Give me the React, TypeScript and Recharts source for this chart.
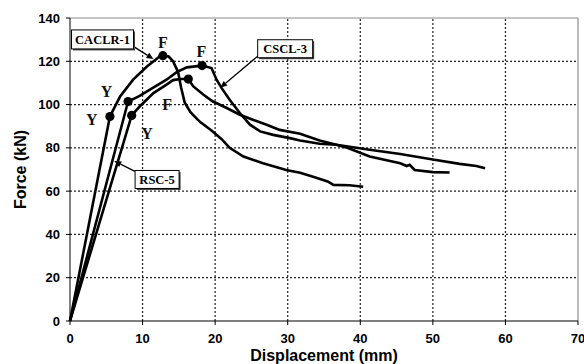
import React from "react";
import {
  ComposedChart,
  Line,
  Scatter,
  XAxis,
  YAxis,
  ReferenceLine,
  ReferenceDot,
} from "recharts";

// Force–displacement curves (Displacement mm, Force kN)
const caclr1 = [
  [0, 0], [5.5, 94.5], [6.9, 103.7], [8.7, 111.5], [10.6, 117.6], [12.4, 122.3],
  [12.8, 122.6], [13.6, 122.2], [14.2, 120], [14.9, 115], [15.3, 108], [15.8, 101],
  [16.6, 96.5], [17.9, 92], [19.5, 88], [20.9, 84], [22, 80], [23.9, 76],
  [26.6, 72.9], [29.8, 69.8], [31.7, 68.5], [33.5, 66.7], [35.5, 64.5], [36.3, 62.9],
  [38.5, 62.7], [40.4, 62],
].map(([x, y]) => ({ x, y }));

const cscl3 = [
  [0, 0], [8.0, 101.4], [9.6, 104], [11.3, 107.5], [13.3, 111.5], [14.7, 115],
  [16.1, 117.2], [18.2, 118], [19.5, 116.9], [20.2, 111.5], [20.9, 107.6], [22, 102.2],
  [23.4, 96.1], [24.8, 90.7], [26.2, 87.6], [28, 86], [30.3, 84.5], [31.7, 83.4],
  [34.4, 81.9], [36.7, 81.4], [41.3, 79.1], [45.5, 77.2], [50, 74.6], [53.7, 72.6],
  [56, 71.6], [57.2, 70.6],
].map(([x, y]) => ({ x, y }));

const rsc5 = [
  [0, 0], [8.5, 95], [9.6, 99.1], [11.5, 105.3], [13.3, 109.2], [14.2, 111.3],
  [15.2, 111.8], [16.3, 111.8], [17, 108.4], [18.4, 104.5], [19.7, 101.4], [21.6, 98.4],
  [23.4, 95.3], [25.2, 93], [27.1, 90.7], [28.9, 88.3], [31.7, 86.5], [34.4, 83.4],
  [36.7, 81.4], [38.3, 79.9], [41.3, 76], [45.5, 72.9], [46.4, 71.6], [46.8, 72.2],
  [47.5, 69.8], [50, 68.8], [52.3, 68.6],
].map(([x, y]) => ({ x, y }));

// Yield (Y) and failure (F) points
const keyPoints = [
  { x: 5.5, y: 94.5 }, { x: 12.8, y: 122.6 },
  { x: 8.0, y: 101.4 }, { x: 18.2, y: 118 },
  { x: 8.5, y: 95 }, { x: 16.3, y: 111.8 },
];

const pointLetters = [
  { x: 12.8, y: 128.6, t: "F" },
  { x: 18.1, y: 124.4, t: "F" },
  { x: 5.05, y: 106.1, t: "Y" },
  { x: 3.0, y: 93.2, t: "Y" },
  { x: 13.4, y: 99.9, t: "F" },
  { x: 10.6, y: 86.8, t: "Y" },
];

const xTicks = [0, 10, 20, 30, 40, 50, 60, 70];
const yTicks = [0, 20, 40, 60, 80, 100, 120, 140];
const X_MAX = 70;
const Y_MAX = 140;

// Grid lines built from the tick lists
const vGrid = xTicks.slice(1, -1).map((t) => [{ x: t, y: 0 }, { x: t, y: Y_MAX }]);
const hGrid = yTicks.slice(1, -1).map((t) => [{ x: 0, y: t }, { x: X_MAX, y: t }]);
const frame = [
  [{ x: 0, y: Y_MAX }, { x: X_MAX, y: Y_MAX }],
  [{ x: X_MAX, y: 0 }, { x: X_MAX, y: Y_MAX }],
];

// Specimen label boxes and arrows (annotation layout)
const specimenLabels = [
  { name: "CACLR-1", x: 4.48, y: 130.1, w: 62, h: 19 },
  { name: "CSCL-3", x: 29.65, y: 125.8, w: 55, h: 18 },
  { name: "RSC-5", x: 12.0, y: 65.4, w: 44, h: 18 },
];
const arrows = [
  { from: { x: 8.72, y: 126.9 }, to: { x: 11.5, y: 121.0 } },
  { from: { x: 25.94, y: 122.6 }, to: { x: 20.7, y: 107.8 } },
  { from: { x: 8.95, y: 69.1 }, to: { x: 6.1, y: 73.9 } },
];

const tickStyle = {
  fontFamily: "'Liberation Sans', Arial, sans-serif",
  fontWeight: "bold",
  fontSize: 13,
  fill: "#000",
};

const YTitle = (props: any) => {
  const vb = props.viewBox || { x: 0, y: 18, width: 70, height: 303 };
  const cx = vb.x + 25.5;
  const cy = vb.y + vb.height / 2;
  return (
    <text
      x={cx}
      y={cy}
      transform={`rotate(-90 ${cx} ${cy})`}
      textAnchor="middle"
      fontFamily="'Liberation Sans', Arial, sans-serif"
      fontWeight="bold"
      fontSize={16}
      fill="#000"
    >
      Force (kN)
    </text>
  );
};

const XTitle = (props: any) => {
  const vb = props.viewBox || { x: 70, y: 321, width: 508, height: 43 };
  return (
    <text
      x={vb.x + vb.width / 2}
      y={vb.y + 40}
      textAnchor="middle"
      fontFamily="'Liberation Sans', Arial, sans-serif"
      fontWeight="bold"
      fontSize={16}
      fill="#000"
    >
      Displacement (mm)
    </text>
  );
};

const Arrow = (p: any) => {
  const { x1, y1, x2, y2 } = p;
  const ang = Math.atan2(y2 - y1, x2 - x1);
  const L = 7;
  const W = 3;
  const bx = x2 - L * Math.cos(ang);
  const by = y2 - L * Math.sin(ang);
  const px = -Math.sin(ang) * W;
  const py = Math.cos(ang) * W;
  return (
    <g>
      <line x1={x1} y1={y1} x2={bx} y2={by} stroke="#000" strokeWidth={1.3} />
      <polygon
        points={`${x2},${y2} ${bx + px},${by + py} ${bx - px},${by - py}`}
        fill="#000"
      />
    </g>
  );
};

const makeBox = (name: string, w: number, h: number) => (p: any) => {
  const { cx, cy } = p;
  const x = cx - w / 2;
  const y = cy - h / 2;
  return (
    <g>
      <rect x={x + 1.5} y={y + 1.5} width={w} height={h} fill="#444" />
      <rect x={x} y={y} width={w} height={h} fill="#fff" stroke="#000" strokeWidth={1} />
      <text
        x={cx}
        y={cy + 4.5}
        textAnchor="middle"
        fontFamily="'Liberation Serif', 'Times New Roman', serif"
        fontWeight="bold"
        fontSize={12.5}
        fill="#000"
      >
        {name}
      </text>
    </g>
  );
};

const DotShape = (p: any) => <circle cx={p.cx} cy={p.cy} r={4.6} fill="#000" />;

const LetterShape = (p: any) => (
  <text
    x={p.cx}
    y={p.cy}
    dy={5.5}
    textAnchor="middle"
    fontFamily="'Liberation Serif', 'Times New Roman', serif"
    fontWeight="bold"
    fontSize={16}
    fill="#111"
  >
    {p.payload?.t}
  </text>
);

export default function App() {
  return (
    <div style={{ position: "absolute", left: 0, top: 0, width: 584, height: 364, background: "#fff" }}>
      <ComposedChart
        width={584}
        height={364}
        margin={{ top: 18, right: 6, bottom: 0, left: 0 }}
      >
        <XAxis
          type="number"
          dataKey="x"
          domain={[0, X_MAX]}
          ticks={xTicks}
          interval={0}
          height={43}
          tickSize={4}
          tickMargin={9}
          tick={tickStyle}
          axisLine={{ stroke: "#000", strokeWidth: 1 }}
          tickLine={{ stroke: "#000" }}
          label={<XTitle />}
        />
        <YAxis
          type="number"
          dataKey="y"
          domain={[0, Y_MAX]}
          ticks={yTicks}
          interval={0}
          width={70}
          tickSize={4}
          tickMargin={6}
          tick={tickStyle}
          axisLine={{ stroke: "#000", strokeWidth: 1 }}
          tickLine={{ stroke: "#000" }}
          label={<YTitle />}
        />
        {vGrid.map((d, i) => (
          <Line
            key={"vg" + i}
            data={d}
            dataKey="y"
            type="linear"
            stroke="#222"
            strokeWidth={1.2}
            strokeDasharray="2 2"
            dot={false}
            activeDot={false}
            legendType="none"
            isAnimationActive={false}
          />
        ))}
        {hGrid.map((d, i) => (
          <Line
            key={"hg" + i}
            data={d}
            dataKey="y"
            type="linear"
            stroke="#222"
            strokeWidth={1.2}
            strokeDasharray="2 2"
            dot={false}
            activeDot={false}
            legendType="none"
            isAnimationActive={false}
          />
        ))}
        {frame.map((d, i) => (
          <Line
            key={"fr" + i}
            data={d}
            dataKey="y"
            type="linear"
            stroke="#8a8a8a"
            strokeWidth={1.2}
            dot={false}
            activeDot={false}
            legendType="none"
            isAnimationActive={false}
          />
        ))}
        <Line data={caclr1} dataKey="y" type="linear" stroke="#000" strokeWidth={2.6} dot={false} activeDot={false} isAnimationActive={false} />
        <Line data={cscl3} dataKey="y" type="linear" stroke="#000" strokeWidth={2.6} dot={false} activeDot={false} isAnimationActive={false} />
        <Line data={rsc5} dataKey="y" type="linear" stroke="#000" strokeWidth={2.6} dot={false} activeDot={false} isAnimationActive={false} />
        <Scatter data={keyPoints} dataKey="y" shape={DotShape} isAnimationActive={false} />
        <Scatter data={pointLetters} dataKey="y" shape={LetterShape} isAnimationActive={false} />
        {arrows.map((a, i) => (
          <ReferenceLine
            key={"a" + i}
            segment={[a.from, a.to]}
            shape={Arrow}
            ifOverflow="visible"
          />
        ))}
        {specimenLabels.map((l) => (
          <ReferenceDot
            key={l.name}
            x={l.x}
            y={l.y}
            r={0}
            ifOverflow="visible"
            shape={makeBox(l.name, l.w, l.h)}
          />
        ))}
      </ComposedChart>
    </div>
  );
}
